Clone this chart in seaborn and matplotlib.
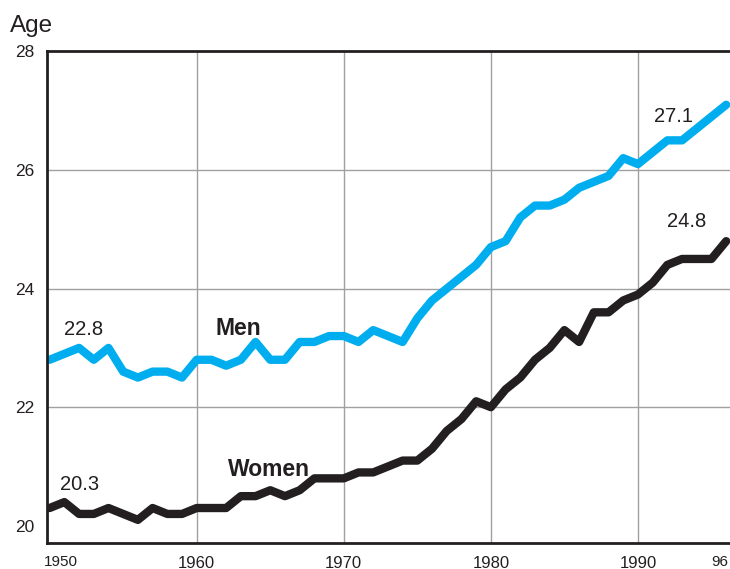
import numpy as np
import pandas as pd
import matplotlib
matplotlib.use('Agg')
import matplotlib.pyplot as plt
import matplotlib.transforms as mtransforms
import seaborn as sns

### Dados: idade mediana no primeiro casamento
anos = list(range(1950, 1997))
homens = [22.8, 22.9, 23.0, 22.8, 23.0, 22.6, 22.5, 22.6, 22.6, 22.5,
          22.8, 22.8, 22.7, 22.8, 23.1, 22.8, 22.8, 23.1, 23.1, 23.2,
          23.2, 23.1, 23.3, 23.2, 23.1, 23.5, 23.8, 24.0, 24.2, 24.4,
          24.7, 24.8, 25.2, 25.4, 25.4, 25.5, 25.7, 25.8, 25.9, 26.2,
          26.1, 26.3, 26.5, 26.5, 26.7, 26.9, 27.1]
mulheres = [20.3, 20.4, 20.2, 20.2, 20.3, 20.2, 20.1, 20.3, 20.2, 20.2,
            20.3, 20.3, 20.3, 20.5, 20.5, 20.6, 20.5, 20.6, 20.8, 20.8,
            20.8, 20.9, 20.9, 21.0, 21.1, 21.1, 21.3, 21.6, 21.8, 22.1,
            22.0, 22.3, 22.5, 22.8, 23.0, 23.3, 23.1, 23.6, 23.6, 23.8,
            23.9, 24.1, 24.4, 24.5, 24.5, 24.5, 24.8]

xticks = [1950, 1960, 1970, 1980, 1990, 1996]
xtick_labels = ['1950', '1960', '1970', '1980', '1990', '96']
yticks = [20, 22, 24, 26, 28]

df = pd.DataFrame({'Ano': anos * 2,
                   'Idade': homens + mulheres,
                   'Sexo': ['Men'] * len(anos) + ['Women'] * len(anos)})

cor_homens = '#00AEEF'
cor_mulheres = '#231F20'
cor_texto = '#231F20'

sns.set_style('white')
plt.rcParams['font.family'] = ['Liberation Sans', 'DejaVu Sans']

fig = plt.figure(figsize=(7.3, 5.69), dpi=100)
ax = fig.add_axes([47 / 730, 26 / 569, 683 / 730, 491.6 / 569])

sns.lineplot(data=df, x='Ano', y='Idade', hue='Sexo',
             palette={'Men': cor_homens, 'Women': cor_mulheres},
             linewidth=6, legend=False, ax=ax)

ax.set_xlim(1949.82, 1996.26)
ax.set_ylim(19.71, 28.0)
ax.set_xlabel('')
ax.set_ylabel('')

# Eixos e grade
ax.set_xticks(xticks)
ax.set_xticklabels(xtick_labels)
ax.set_yticks(yticks)
ax.tick_params(axis='both', length=0, colors=cor_texto)
ax.tick_params(axis='y', labelsize=12.5, pad=9)
ax.tick_params(axis='x', labelsize=12, pad=9)

# 1950 e 96 menores, deslocados como no original
rotulos = ax.get_xticklabels()
for lbl, dx in [(rotulos[0], 11), (rotulos[-1], -6)]:
    lbl.set_fontsize(11)
    lbl.set_transform(lbl.get_transform() + mtransforms.ScaledTranslation(dx / 100, 0, fig.dpi_scale_trans))

ax.grid(True, color='#a0a0a0', linewidth=1)
ax.set_axisbelow(True)
xg = ax.xaxis.get_gridlines()
xg[0].set_visible(False)
xg[-1].set_visible(False)
yg = ax.yaxis.get_gridlines()
yg[0].set_visible(False)
yg[-1].set_visible(False)

for lado in ['left', 'top', 'bottom']:
    ax.spines[lado].set_color(cor_texto)
    ax.spines[lado].set_linewidth(2)
ax.spines['right'].set_visible(False)

# Anotações
ax.text(1952.34, 23.22, '22.8', ha='center', va='baseline', fontsize=14.5, color=cor_texto)
ax.text(1952.03, 20.60, '20.3', ha='center', va='baseline', fontsize=14.5, color=cor_texto)
ax.text(1992.41, 26.81, '27.1', ha='center', va='baseline', fontsize=14.5, color=cor_texto)
ax.text(1993.33, 25.04, '24.8', ha='center', va='baseline', fontsize=14.5, color=cor_texto)
ax.text(1962.84, 23.22, 'Men', ha='center', va='baseline', fontsize=16.5, fontweight='bold', color=cor_texto)
ax.text(1964.9, 20.84, 'Women', ha='center', va='baseline', fontsize=16.5, fontweight='bold', color=cor_texto)

fig.text(10 / 730, 1 - 32 / 569, 'Age', ha='left', va='baseline', fontsize=17.5, color=cor_texto)

plt.savefig('out.png', dpi=100)
